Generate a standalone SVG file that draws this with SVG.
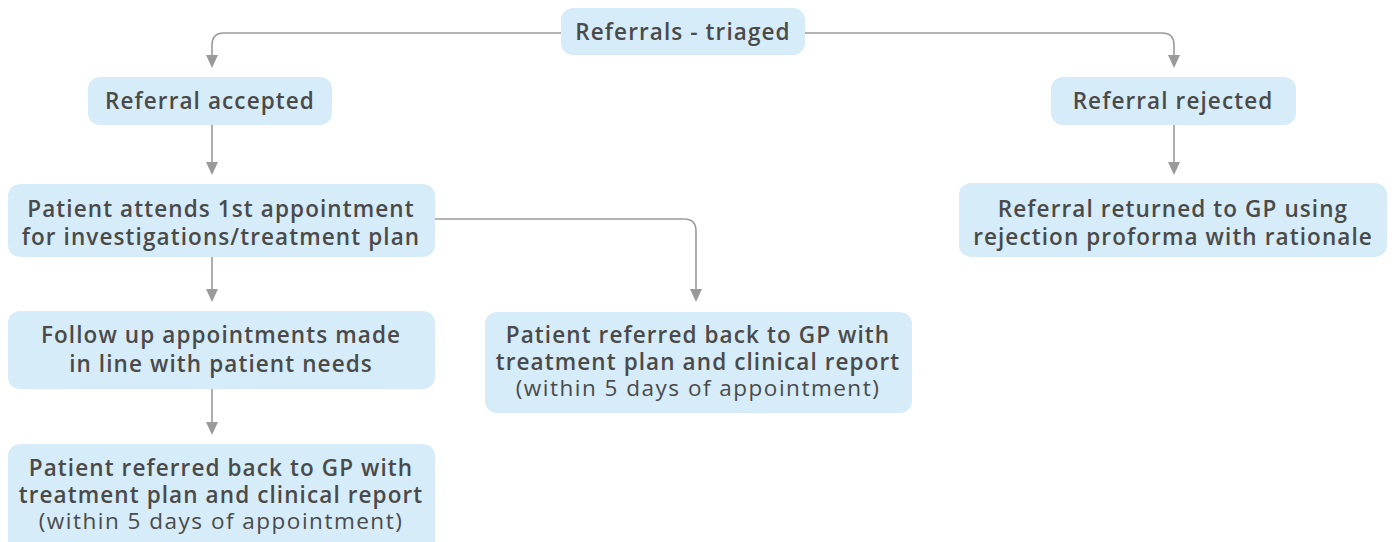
<svg xmlns="http://www.w3.org/2000/svg" width="1394" height="542" viewBox="0 0 1394 542">
<defs>
<style>
.box{fill:#d6ecf8;}
.t{font-family:"Open Sans","Liberation Sans",sans-serif;font-size:22.5px;font-weight:600;fill:#4a4a4a;text-anchor:middle;letter-spacing:1.1px;}
.n{font-weight:400;letter-spacing:1.5px;}
.c{fill:none;stroke:#9a9a9a;stroke-width:1.6;}
.a{fill:#9a9a9a;}
</style>
</defs>
<rect width="1394" height="542" fill="#ffffff"/>
<g id="connectors">
<path class="c" d="M561,33 H224 Q212,33 212,45 V55"/>
<path class="a" d="M206,55 L218,55 L212,68 Z"/>
<path class="c" d="M805,33 H1162 Q1174,33 1174,45 V55"/>
<path class="a" d="M1168,55 L1180,55 L1174,68 Z"/>
<path class="c" d="M212,125 V162"/>
<path class="a" d="M206,162 L218,162 L212,175 Z"/>
<path class="c" d="M1174,125 V162"/>
<path class="a" d="M1168,162 L1180,162 L1174,175 Z"/>
<path class="c" d="M212,257 V289"/>
<path class="a" d="M206,289 L218,289 L212,302 Z"/>
<path class="c" d="M435,219 H684 Q696,219 696,231 V289"/>
<path class="a" d="M690,289 L702,289 L696,302 Z"/>
<path class="c" d="M212,389 V422"/>
<path class="a" d="M206,422 L218,422 L212,435 Z"/>
</g>
<g id="n-triaged">
<rect class="box" x="561" y="8" width="244" height="47" rx="12"/>
<text class="t" x="683" y="40">Referrals - triaged</text>
</g>
<g id="n-accepted">
<rect class="box" x="88" y="77" width="244" height="48" rx="12"/>
<text class="t" x="210" y="109">Referral accepted</text>
</g>
<g id="n-rejected">
<rect class="box" x="1051" y="77" width="245" height="48" rx="12"/>
<text class="t" x="1173" y="109">Referral rejected</text>
</g>
<g id="n-returned">
<rect class="box" x="959" y="183" width="428" height="74" rx="12"/>
<text class="t" x="1173" y="217">Referral returned to GP using</text>
<text class="t" x="1173" y="245">rejection proforma with rationale</text>
</g>
<g id="n-attends">
<rect class="box" x="8" y="184" width="427" height="73" rx="12"/>
<text class="t" x="221" y="217">Patient attends 1st appointment</text>
<text class="t" x="221" y="245">for investigations/treatment plan</text>
</g>
<g id="n-followup">
<rect class="box" x="8" y="311" width="427" height="78" rx="12"/>
<text class="t" x="221" y="343">Follow up appointments made</text>
<text class="t" x="221" y="372">in line with patient needs</text>
</g>
<g id="n-referred-mid">
<rect class="box" x="485" y="312" width="427" height="101" rx="12"/>
<text class="t" x="698" y="343">Patient referred back to GP with</text>
<text class="t" x="698" y="370">treatment plan and clinical report</text>
<text class="t n" x="698" y="396">(within 5 days of appointment)</text>
</g>
<g id="n-referred-bottom">
<rect class="box" x="8" y="444" width="427" height="110" rx="12"/>
<text class="t" x="221" y="476">Patient referred back to GP with</text>
<text class="t" x="221" y="503">treatment plan and clinical report</text>
<text class="t n" x="221" y="529">(within 5 days of appointment)</text>
</g>
</svg>
